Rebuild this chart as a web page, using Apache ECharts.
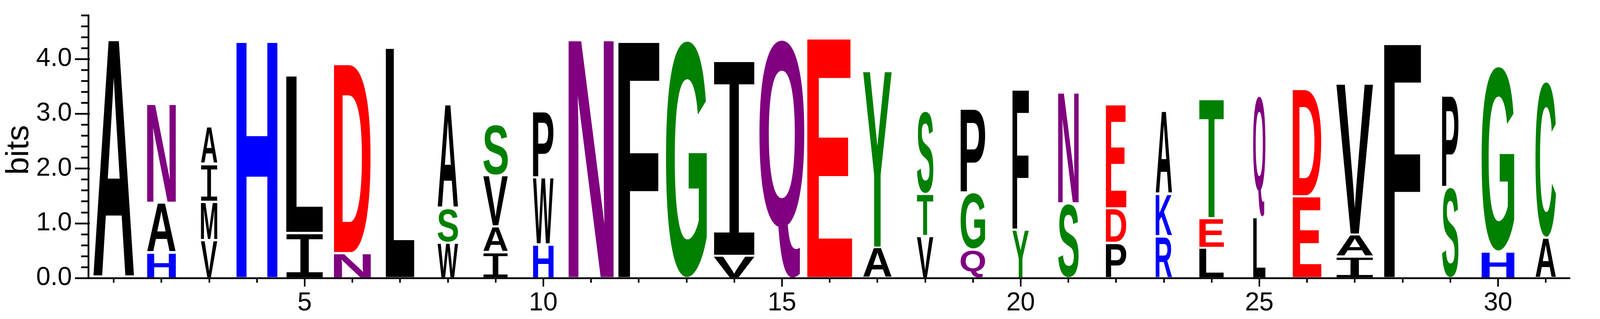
<!DOCTYPE html>
<html lang="en">
<head>
<meta charset="UTF-8">
<title>Sequence logo</title>
<script src="https://cdn.jsdelivr.net/npm/echarts@6/dist/echarts.min.js"></script>
<style>html,body{margin:0;padding:0;background:#fff;}</style>
</head>
<body>
<div id="logo" style="width:100%;height:817px;"></div>
<script>
    // positions along the alignment
    var positions = ['1','2','3','4','5','6','7','8','9','10','11','12','13','14','15','16',
                     '17','18','19','20','21','22','23','24','25','26','27','28','29','30','31'];
    // residues of each stack, bottom -> top
    var stackLetters = ['A','HAN','VMIA','H','IL','ND','L','WSA','IAVS','HWP','N','F','G','VI','Q','E',
                        'AY','VTS','QGP','YF','SN','PDE','RKA','LET','LQ','ED','IAV','F','SP','HG','AC'];
    // height of each residue in bits, bottom -> top
    var stackBits = [
        [4.32], [0.43, 0.91, 1.82], [0.66, 0.70, 0.69, 0.68], [4.32], [0.79, 2.88],
        [0.42, 3.46], [4.18], [0.61, 0.63, 1.90], [0.44, 0.47, 0.93, 0.94], [0.58, 1.22, 1.21],
        [4.35], [4.32], [4.31], [0.37, 3.59], [4.35], [4.35], [0.52, 3.23],
        [0.73, 0.77, 1.52], [0.49, 1.04, 1.54], [0.85, 2.58], [1.33, 2.04], [0.61, 0.63, 1.90],
        [0.73, 0.77, 1.52], [0.52, 0.54, 2.19], [1.08, 2.23], [1.46, 1.96], [0.36, 0.40, 2.76],
        [4.28], [1.63, 1.68], [0.45, 3.39], [0.70, 2.86]
    ];
    // non-gap sequences per column (drives stack width)
    var seqCount = [10,7,4,10,9,9,7,5,6,5,11,10,10,10,11,11,7,4,6,4,5,5,4,6,3,7,9,9,4,8,5];
    var nSeqs = 11;
    var yMax = 4.8;
    var yLabelMax = 4;

    var letterColor = {
        A:'#000000', V:'#000000', L:'#000000', I:'#000000', P:'#000000', W:'#000000', F:'#000000', M:'#000000',
        G:'#008000', S:'#008000', T:'#008000', Y:'#008000', C:'#008000',
        N:'#800080', Q:'#800080',
        K:'#0000FF', R:'#0000FF', H:'#0000FF',
        D:'#FF0000', E:'#FF0000'
    };

    // ink box of every glyph, so it can be stretched to fill its slot
    var measureCtx = document.createElement('canvas').getContext('2d');
    var glyphCache = {};
    function glyphBox(ch) {
        if (glyphCache[ch]) return glyphCache[ch];
        var font = ch === 'I' ? 'normal 200px "Liberation Mono"' : 'bold 200px "Liberation Sans"';
        measureCtx.font = font;
        measureCtx.textAlign = 'left';
        measureCtx.textBaseline = 'middle';
        var m = measureCtx.measureText(ch);
        glyphCache[ch] = {
            font: font,
            left: m.actualBoundingBoxLeft,
            right: m.actualBoundingBoxRight,
            ascent: m.actualBoundingBoxAscent,
            descent: m.actualBoundingBoxDescent
        };
        return glyphCache[ch];
    }

    var lift = 2.5;     // letters sit on top of the axis line
    var letterGap = 5;  // white space between stacked letters

    function renderStack(params, api) {
        var i = api.value(0);
        var letters = stackLetters[i];
        var bits = stackBits[i];
        var center = api.coord([i, 0]);
        var band = api.size([1, 0])[0];
        var w = band * 0.945 * seqCount[i] / nSeqs;
        var x0 = center[0] - w / 2;
        var children = [];
        var cum = 0;
        for (var k = 0; k < letters.length; k++) {
            var yBottom = api.coord([i, cum])[1] - lift - (k > 0 ? letterGap : 0);
            cum += bits[k];
            var yTop = api.coord([i, cum])[1] - lift;
            var g = glyphBox(letters[k]);
            var sx = w / (g.left + g.right);
            var sy = (yBottom - yTop) / (g.ascent + g.descent);
            children.push({
                type: 'text',
                x: x0 + g.left * sx,
                y: yTop + g.ascent * sy,
                scaleX: sx,
                scaleY: sy,
                silent: true,
                style: {
                    text: letters[k],
                    font: g.font,
                    fill: letterColor[letters[k]],
                    align: 'left',
                    verticalAlign: 'middle',
                    textAlign: 'left',
                    textVerticalAlign: 'middle'
                }
            });
        }
        return {type: 'group', children: children};
    }

    function everyFifth(index) {
        return (index + 1) % 5 === 0;
    }

    var myChart = echarts.init(document.getElementById('logo'));
    var kx = myChart.getWidth() / 4525;

    var option = {
        backgroundColor: '#ffffff',
        animation: false,
        grid: [
            {left: 254 * kx, right: 86 * kx, top: 39, bottom: 105},
            {left: 254 * kx, right: 86 * kx, top: 151, bottom: 105}   // 0..4 part, for the labelled ticks
        ],
        xAxis: [
            {
                gridIndex: 0,
                type: 'category',
                position: 'bottom',
                data: positions,
                boundaryGap: true,
                axisLine: {show: true, lineStyle: {color: '#000', width: 4.5}},
                axisTick: {show: true, alignWithLabel: true, length: 12, lineStyle: {color: '#000', width: 4.5 * kx}},
                axisLabel: {show: false},
                splitLine: {show: false}
            },
            {
                gridIndex: 0,
                type: 'category',
                position: 'bottom',
                data: positions,
                boundaryGap: true,
                axisLine: {show: false},
                axisTick: {show: true, alignWithLabel: true, interval: everyFifth, length: 22,
                           lineStyle: {color: '#000', width: 4.5 * kx}},
                axisLabel: {
                    show: true,
                    interval: everyFifth,
                    margin: 32,
                    color: '#000',
                    fontSize: 66,
                    fontFamily: 'Liberation Sans'
                },
                splitLine: {show: false}
            },
            {gridIndex: 1, type: 'value', show: false, min: 0, max: 1}
        ],
        yAxis: [
            {
                gridIndex: 0,
                type: 'value',
                min: 0,
                max: yMax,
                interval: 0.2,
                offset: 4.5 * kx,
                name: 'bits',
                nameLocation: 'middle',
                nameGap: 150 * kx,
                nameRotate: 90,
                nameTextStyle: {
                    color: '#000',
                    fontSize: 82,
                    fontFamily: 'Liberation Sans',
                    padding: [0, 17, 0, 0]
                },
                axisLine: {show: true, lineStyle: {color: '#000', width: 5 * kx}},
                axisTick: {show: true, length: 20 * kx, lineStyle: {color: '#000', width: 4.5}},
                axisLabel: {show: false},
                splitLine: {show: false}
            },
            {
                gridIndex: 1,
                type: 'value',
                min: 0,
                max: yLabelMax,
                interval: 1,
                offset: 4.5 * kx,
                axisLine: {show: false},
                axisTick: {show: true, length: 42 * kx, lineStyle: {color: '#000', width: 4.5}},
                axisLabel: {
                    show: true,
                    margin: 46 * kx,
                    color: '#000',
                    fontSize: 66,
                    fontFamily: 'Liberation Sans',
                    formatter: function (v) { return v.toFixed(1); }
                },
                splitLine: {show: false}
            }
        ],
        series: [{
            type: 'custom',
            name: 'logo',
            xAxisIndex: 0,
            yAxisIndex: 0,
            clip: false,
            renderItem: renderStack,
            encode: {x: 0, y: 1},
            data: positions.map(function (p, i) {
                var total = stackBits[i].reduce(function (a, b) { return a + b; }, 0);
                return [i, total];
            })
        }]
    };
    myChart.setOption(option);
</script>
</body>
</html>
